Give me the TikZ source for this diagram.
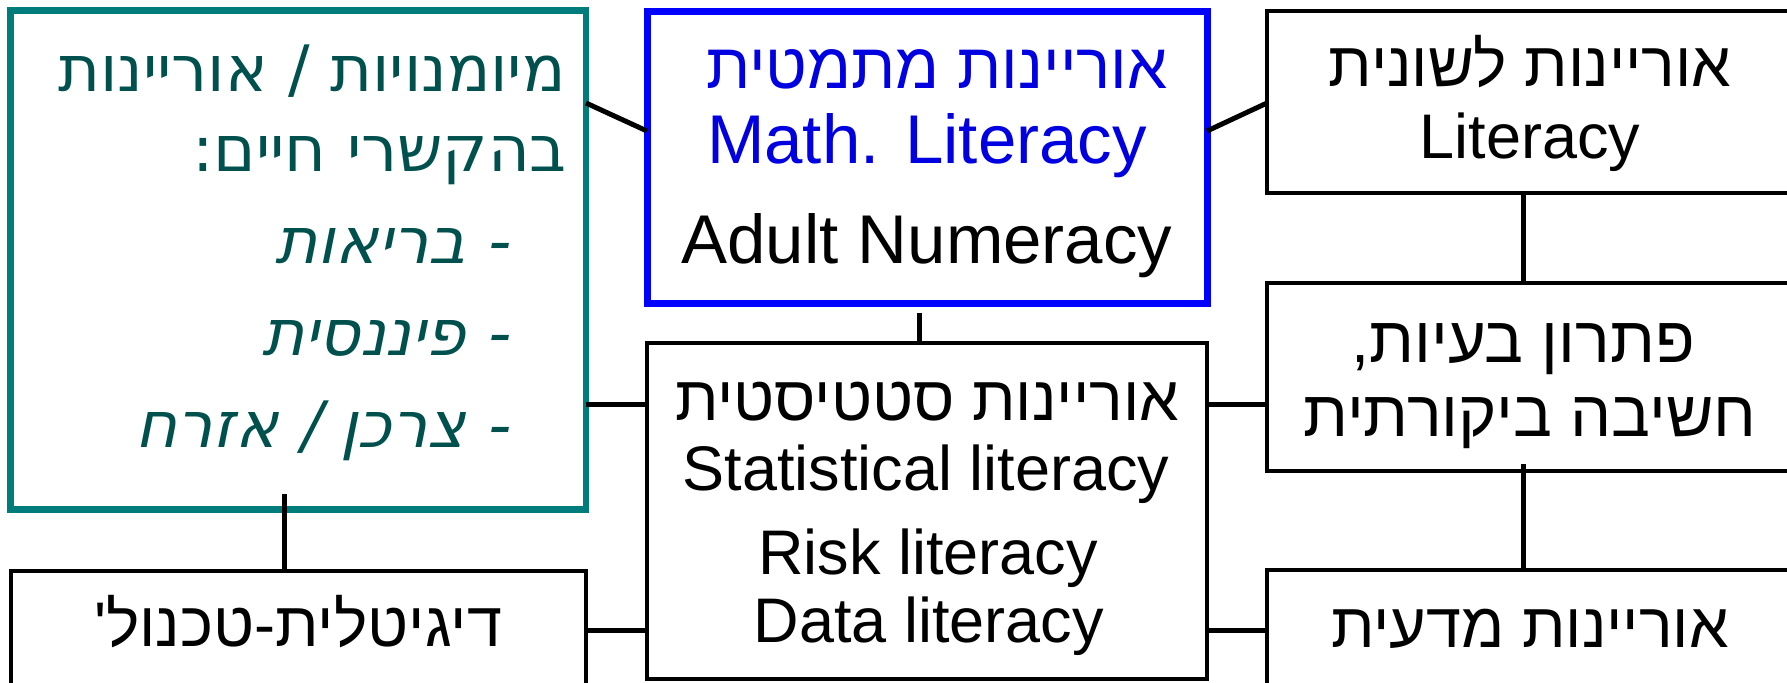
\documentclass[tikz,border=0pt]{standalone}
\usepackage{fontspec}
\setmainfont{Liberation Sans}
\newfontfamily\heb[Script=Hebrew,Ligatures=TeXOff]{Liberation Sans}
\newfontfamily\tealheb[Script=Hebrew]{DejaVu Sans}
\newfontfamily\tealit[Script=Hebrew,FakeSlant=0.2]{DejaVu Sans}
\TeXXeTstate=1
\definecolor{tealB}{RGB}{0,125,122}
\definecolor{tealT}{RGB}{0,80,78}
\definecolor{blueB}{RGB}{0,0,255}
\definecolor{blueT}{RGB}{0,0,225}
\begin{document}
\begin{tikzpicture}[x=0.5pt,y=-0.5pt,
  box/.style={draw=black,line width=2pt,inner sep=0pt,outer sep=0pt,rectangle},
  tealbox/.style={box,draw=tealB,line width=3.25pt},
  bluebox/.style={box,draw=blueB,line width=3.5pt},
  conn/.style={line width=2.5pt,black},
  txt/.style={inner sep=0pt,outer sep=0pt,anchor=base},
  bigf/.style={font=\fontsize{34.5pt}{40pt}\selectfont},
  bighebf/.style={font=\fontsize{32pt}{38pt}\selectfont\heb},
  midf/.style={font=\fontsize{31.5pt}{36pt}\selectfont},
  probf/.style={font=\fontsize{32.5pt}{38pt}\selectfont\heb},
  tealf/.style={font=\fontsize{32pt}{38pt}\selectfont\tealheb,text=tealT},
  tealif/.style={font=\fontsize{32pt}{38pt}\selectfont\tealit,text=tealT}]
\useasboundingbox (0,0) rectangle (1787,682);
\clip (0,0) rectangle (1787,682);
\fill[white] (0,0) rectangle (1787,682);
% boxes
\node[tealbox,minimum width=287.75pt,minimum height=249.5pt] (teal) at (298.25,260) {};
\node[bluebox,minimum width=280pt,minimum height=146pt] (blue) at (927,157) {};
\node[box,minimum width=263pt,minimum height=90.75pt] (lit) at (1530,101.75) {};
\node[box,minimum width=263pt,minimum height=94pt] (prob) at (1530,377) {};
\node[box,minimum width=263pt,minimum height=95pt] (sci) at (1530,665) {};
\node[box,minimum width=280pt,minimum height=167.75pt] (stat) at (927,510.75) {};
\node[box,minimum width=287.75pt,minimum height=95pt] (dig) at (298.25,666) {};
% teal box texts
\node[txt,tealf,anchor=base east] (t1) at (566,91.5) {\beginR מיומנויות / אוריינות\endR};
\node[txt,tealf,anchor=base east] (t2) at (567,171.5) {\beginR בהקשרי חיים:\endR};
\node[txt,tealif,anchor=base east] (t3) at (509,263) {\beginR - בריאות\endR};
\node[txt,tealif,anchor=base east] (t4) at (509,355) {\beginR - פיננסית\endR};
\node[txt,tealif,anchor=base east] (t5) at (509,447) {\beginR - צרכן / אזרח\endR};
% blue box texts
\node[txt,bighebf,text=blueT] (b1) at (937,88) {\beginR אוריינות מתמטית\endR};
\node[txt,bigf,text=blueT] (b2) at (927,163) {Math. Literacy};
\node[txt,bigf] (b3) at (927,263) {Adult Numeracy};
% literacy
\node[txt,midf] (l1) at (1530,86) {\heb\beginR אוריינות לשונית\endR};
\node[txt,midf] (l2) at (1530,158.5) {Literacy};
% problem solving
\node[txt,probf] (p1) at (1523,362) {\beginR פתרון בעיות,\endR};
\node[txt,probf] (p2) at (1530,436) {\beginR חשיבה ביקורתית\endR};
% statistics
\node[txt,midf] (s1) at (927,420) {\heb\beginR אוריינות סטטיסטית\endR};
\node[txt,midf] (s2) at (926,490) {Statistical literacy};
\node[txt,midf] (s3) at (928,574) {Risk literacy};
\node[txt,midf] (s4) at (929,642) {Data literacy};
% science
\node[txt,midf] (c1) at (1530,647) {\heb\beginR אוריינות מדעית\endR};
% digital
\node[txt,midf] (d1) at (298,646) {\heb\beginR דיגיטלית-טכנול'\endR};
% connectors
\coordinate (bstub) at (919,313);
\coordinate (pstub) at (1523.5,464);
\coordinate (tstub) at (284,494);
\draw[conn] (teal.east |- 0,103) -- (blue.west |- 0,131);
\draw[conn] (blue.east |- 0,131) -- (lit.west |- 0,103);
\draw[conn] (bstub) -- (stat.north -| bstub);
\draw[conn] (teal.east |- 0,404.5) -- (stat.west |- 0,404.5);
\draw[conn] (stat.east |- 0,404.5) -- (prob.west |- 0,404.5);
\draw[conn] (stat.west |- 0,630.5) -- (dig.east |- 0,630.5);
\draw[conn] (stat.east |- 0,630.5) -- (sci.west |- 0,630.5);
\draw[conn] (lit.south -| pstub) -- (prob.north -| pstub);
\draw[conn] (pstub) -- (sci.north -| pstub);
\draw[conn] (tstub) -- (dig.north -| tstub);
\end{tikzpicture}
\end{document}
